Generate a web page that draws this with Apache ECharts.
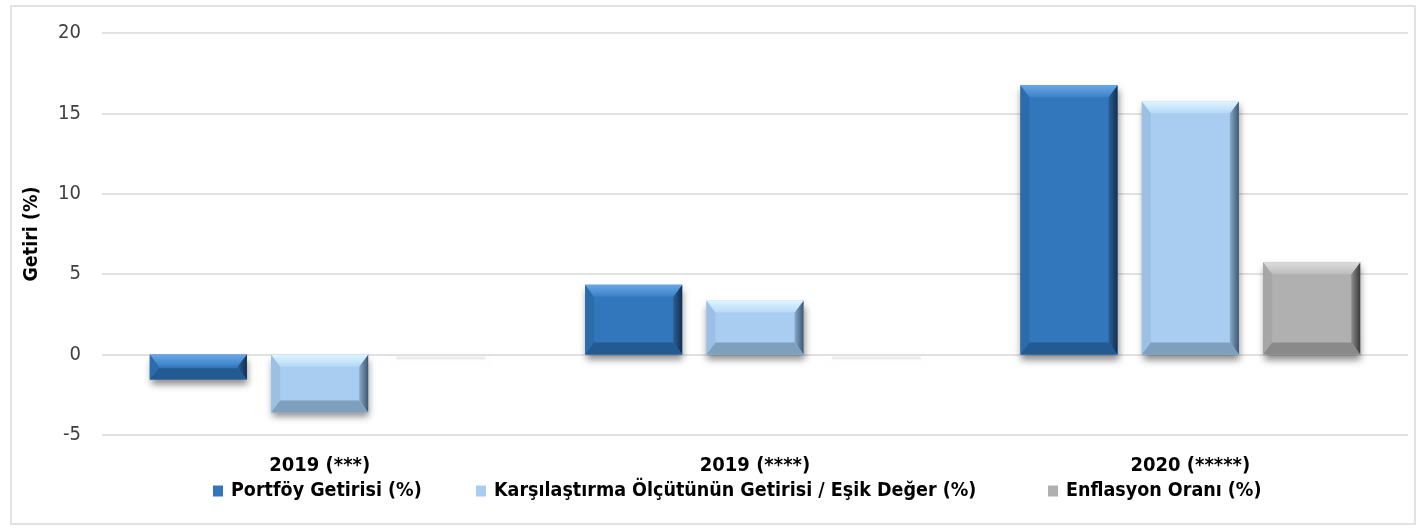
<!DOCTYPE html>
<html><head><meta charset="utf-8">
<script src="https://cdn.jsdelivr.net/npm/echarts@6/dist/echarts.min.js"></script>
<style>html,body{margin:0;padding:0;background:#fff}#c{width:1422px;height:529px}</style>
</head><body><div id="c"></div>
<script>
const categories = ['2019 (***)', '2019 (****)', '2020 (*****)'];
const seriesNames = ['Portföy Getirisi (%)', 'Karşılaştırma Ölçütünün Getirisi / Eşik Değer (%)', 'Enflasyon Oranı (%)'];
const portfoy = [-1.55, 4.35, 16.75];
const karsilastirma = [-3.6, 3.36, 15.75];
const enflasyon = [0, 0, 5.74];
const yTicks = [-5, 0, 5, 10, 15, 20];

const FONT = '"Liberation Sans Narrow", "DejaVu Sans Condensed", sans-serif';
const palettes = [
  {main: '#3277bc', topA: '#6aa7e6', topB: '#3a82c8', bottom: '#245a92', left: '#2c6cab', rightA: '#2a5f96', rightB: '#132f4f'},
  {main: '#a9cdf0', topA: '#dff4ff', topB: '#b6d9f6', bottom: '#7f9fbf', left: '#9cc0e3', rightA: '#8aaacb', rightB: '#3c5670'},
  {main: '#b0b0b0', topA: '#dcdcdc', topB: '#bcbcbc', bottom: '#8a8a8a', left: '#a6a6a6', rightA: '#8e8e8e', rightB: '#3a3a3a'}
];
const data = [portfoy, karsilastirma, enflasyon];
const N = seriesNames.length;

function renderBar(params, api) {
  const si = params.seriesIndex;
  const p = palettes[si];
  const cat = api.value(0), val = api.value(1);
  const band = api.size([1, 0])[0];
  const W = band * 0.223, G = W * 0.25;
  const total = N * W + (N - 1) * G;
  const c = api.coord([cat, 0]);
  const x0 = c[0] - total / 2 + si * (W + G);
  const yv = api.coord([cat, val])[1];
  const y1 = Math.min(c[1], yv), y2 = Math.max(c[1], yv);
  const h = y2 - y1;
  const x1 = x0 + W;
  if (h < 1) {
    return {type: 'rect', shape: {x: x0 + 4, y: y1 + 2, width: W - 8, height: 3},
      style: {fill: 'rgba(0,0,0,0.07)', shadowBlur: 6, shadowOffsetY: 2, shadowColor: 'rgba(0,0,0,0.25)'}};
  }
  const b = Math.min(12, h / 2.2, W / 2);
  const bs = Math.min(9, h / 2.2);
  const poly = (pts, fill) => ({type: 'polygon', shape: {points: pts}, style: {fill: fill}});
  return {type: 'group', children: [
    {type: 'rect', shape: {x: x0, y: y1, width: W, height: h},
      style: {fill: p.main, shadowBlur: 7, shadowOffsetY: 5, shadowOffsetX: 1, shadowColor: 'rgba(0,0,0,0.45)'}},
    poly([[x0, y1], [x0 + bs, y1 + b], [x0 + bs, y2 - b], [x0, y2]], p.left),
    poly([[x1, y1], [x1 - bs, y1 + b], [x1 - bs, y2 - b], [x1, y2]],
      new echarts.graphic.LinearGradient(1, 0, 0, 0, [{offset: 0, color: p.rightB}, {offset: 1, color: p.rightA}])),
    poly([[x0, y1], [x1, y1], [x1 - bs, y1 + b], [x0 + bs, y1 + b]],
      new echarts.graphic.LinearGradient(0, 0, 0, 1, [{offset: 0, color: p.topA}, {offset: 1, color: p.topB}])),
    poly([[x0, y2], [x1, y2], [x1 - bs, y2 - b], [x0 + bs, y2 - b]], p.bottom)
  ]};
}

const legendLefts = [213, 476, 1048];
const chart = echarts.init(document.getElementById('c'));
chart.setOption({
  animation: false,
  textStyle: {fontFamily: FONT},
  graphic: [{type: 'rect', shape: {x: 11, y: 6, width: 1404, height: 518}, style: {fill: 'none', stroke: '#d9d9d9', lineWidth: 1.5}, silent: true}],
  grid: {left: 102, right: 14, top: 33, bottom: 94},
  legend: seriesNames.map((n, i) => ({
    left: legendLefts[i], top: 481, padding: 0, itemWidth: 10, itemHeight: 11, itemGap: 0,
    textStyle: {fontFamily: FONT, fontWeight: 'bold', fontSize: 19.5, color: '#000', padding: [0, 0, 0, 3]},
    data: [{name: n, icon: 'rect'}]
  })),
  xAxis: {
    type: 'category', data: categories,
    axisLine: {show: false}, axisTick: {show: false},
    axisLabel: {fontFamily: FONT, fontWeight: 'bold', fontSize: 20, color: '#000', margin: 21}
  },
  yAxis: {
    type: 'value', min: -5, max: 20, interval: 5,
    name: 'Getiri (%)', nameLocation: 'middle', nameGap: 60, nameRotate: 90,
    nameTextStyle: {fontFamily: FONT, fontWeight: 'bold', fontSize: 19.5, color: '#000'},
    axisLabel: {fontFamily: FONT, fontSize: 20, color: '#404040', margin: 21,
      formatter: v => yTicks.includes(v) ? String(v) : ''},
    splitLine: {lineStyle: {color: '#d9d9d9', width: 1.5}},
    axisLine: {show: false}, axisTick: {show: false}
  },
  series: seriesNames.map((n, i) => ({
    name: n, type: 'custom', renderItem: renderBar,
    itemStyle: {color: palettes[i].main},
    encode: {x: 0, y: 1},
    data: data[i].map((v, k) => [k, v])
  }))
});
</script></body></html>
